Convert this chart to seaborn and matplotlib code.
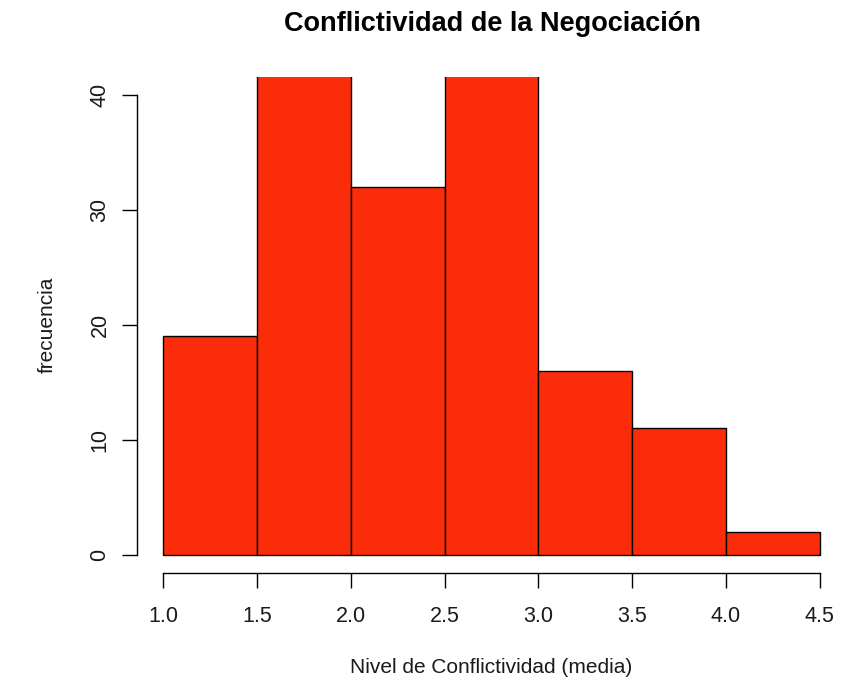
import numpy as np
import matplotlib
matplotlib.use("Agg")
import matplotlib.pyplot as plt
import seaborn as sns

# histogram data (bins of width 0.5); the two tallest bins run past the y limit
bin_edges = [1.0, 1.5, 2.0, 2.5, 3.0, 3.5, 4.0, 4.5]
counts = [19, 45, 32, 44, 16, 11, 2]
x_ticks = [1.0, 1.5, 2.0, 2.5, 3.0, 3.5, 4.0, 4.5]
y_ticks = [0, 10, 20, 30, 40]

sns.set_theme(style="white")
plt.rcParams["font.family"] = ["Liberation Sans", "DejaVu Sans"]

centers = (np.array(bin_edges[:-1]) + np.array(bin_edges[1:])) / 2

fig = plt.figure(figsize=(8.44, 6.87), dpi=100)
ax = fig.add_axes([137 / 844, 1 - 573 / 687, (846 - 137) / 844, (573 - 77) / 687])

sns.histplot(x=centers, weights=counts, bins=bin_edges, ax=ax,
             color="#FA2C0A", alpha=1, edgecolor="black", linewidth=1)

# R style axes: 4% padding, axis lines only over tick range
ax.set_xlim(1.0 - 0.04 * 3.5, 4.5 + 0.04 * 3.5)
ax.set_ylim(-1.6, 41.6)
ax.set_xticks(x_ticks)
ax.set_xticklabels([f"{v:.1f}" for v in x_ticks])
ax.set_yticks(y_ticks)
ax.set_yticklabels([str(v) for v in y_ticks], rotation=90, va="center")

for s in ["top", "right"]:
    ax.spines[s].set_visible(False)
ax.spines["left"].set_bounds(0, 40)
ax.spines["bottom"].set_bounds(1.0, 4.5)
for s in ["left", "bottom"]:
    ax.spines[s].set_color("black")
    ax.spines[s].set_linewidth(1)

ax.tick_params(axis="both", direction="out", length=11, width=1, color="black",
               labelsize=15.5, labelcolor="#1a1a1a", bottom=True, left=True, pad=8)
ax.tick_params(axis="x", pad=13)

ax.set_xlabel("Nivel de Conflictividad (media)", fontsize=15, color="#1a1a1a", labelpad=22)
ax.set_ylabel("frecuencia", fontsize=15, color="#1a1a1a", labelpad=24)
ax.grid(False)

fig.suptitle("Conflictividad de la Negociación", x=492 / 844, y=1 - 11 / 687,
             fontsize=19.5, fontweight="bold", va="top", color="black")

fig.savefig("out.png", dpi=100)
